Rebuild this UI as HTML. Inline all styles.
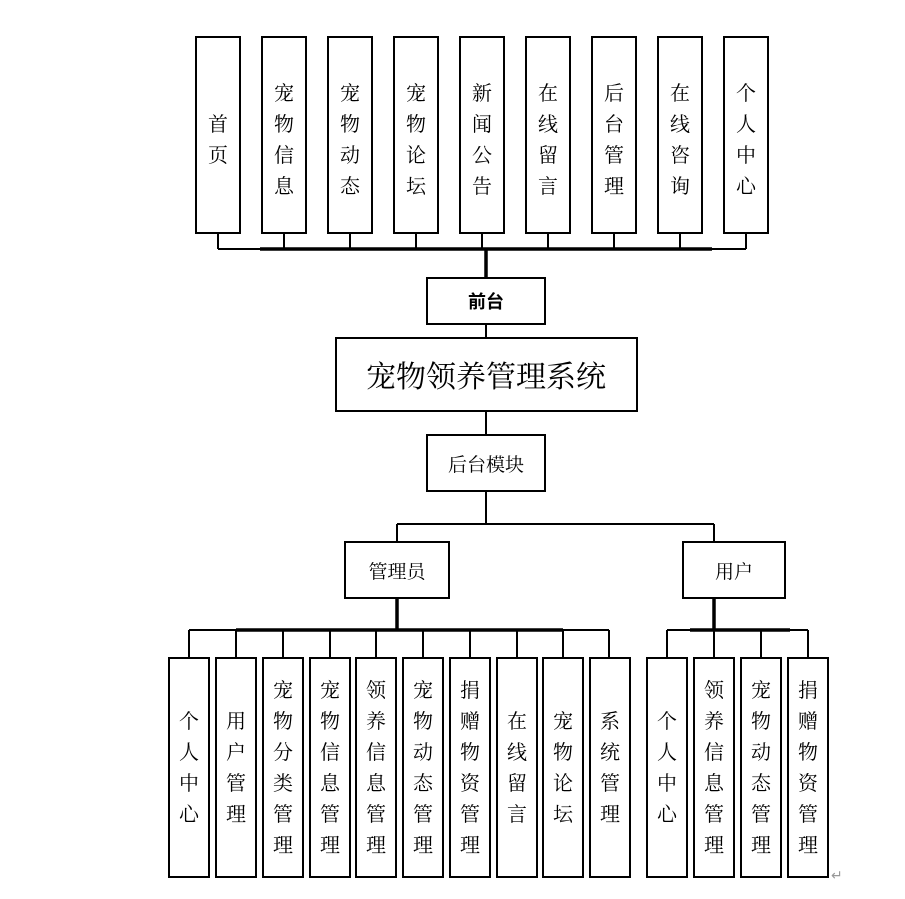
<!DOCTYPE html>
<html><head><meta charset="utf-8"><style>
html,body{margin:0;padding:0;background:#fff;}
svg text{font-family:"Liberation Serif","Noto Serif CJK SC","Noto Sans CJK SC",serif;fill:#000;}
</style></head><body>
<svg width="905" height="894" viewBox="0 0 905 894" xmlns="http://www.w3.org/2000/svg">
<g fill="none" stroke="#000" stroke-width="2">
<!-- top boxes -->
<rect x="196" y="37" width="44" height="196"/>
<rect x="262" y="37" width="44" height="196"/>
<rect x="328" y="37" width="44" height="196"/>
<rect x="394" y="37" width="44" height="196"/>
<rect x="460" y="37" width="44" height="196"/>
<rect x="526" y="37" width="44" height="196"/>
<rect x="592" y="37" width="44" height="196"/>
<rect x="658" y="37" width="44" height="196"/>
<rect x="724" y="37" width="44" height="196"/>
<path d="M218 233V249M284 233V249M350 233V249M416 233V249M482 233V249M548 233V249M614 233V249M680 233V249M746 233V249M218 249H746"/>
<rect x="427" y="278" width="118" height="46"/>
<rect x="336" y="338" width="301" height="73"/>
<rect x="427" y="435" width="118" height="56"/>
<path d="M486 324V338M486 411V435"/>
<path d="M486 491V524M397 524H714M397 524V542M714 524V542"/>
<rect x="345" y="542" width="104" height="56"/>
<rect x="683" y="542" width="102" height="56"/>
<path d="M189 630H609M189 630V658M236 630V658M283 630V658M330 630V658M376 630V658M423 630V658M470 630V658M517 630V658M563 630V658M609 630V658"/>
<path d="M667 630H808M667 630V658M714 630V658M761 630V658M808 630V658"/>
<rect x="169" y="658" width="40" height="219"/>
<rect x="216" y="658" width="40" height="219"/>
<rect x="263" y="658" width="40" height="219"/>
<rect x="310" y="658" width="40" height="219"/>
<rect x="356" y="658" width="40" height="219"/>
<rect x="403" y="658" width="40" height="219"/>
<rect x="450" y="658" width="40" height="219"/>
<rect x="497" y="658" width="40" height="219"/>
<rect x="543" y="658" width="40" height="219"/>
<rect x="590" y="658" width="40" height="219"/>
<rect x="647" y="658" width="40" height="219"/>
<rect x="694" y="658" width="40" height="219"/>
<rect x="741" y="658" width="40" height="219"/>
<rect x="788" y="658" width="40" height="219"/>
</g>
<g stroke="#000" stroke-width="3.5">
<path d="M486 249V278M260 249H712M397 598V630M236 630H563M714 598V630M690 630H790"/>
</g>
<g font-size="20" text-anchor="middle">
<text x="218" y="131">首</text><text x="218" y="162">页</text>
<text x="284" y="100">宠</text><text x="284" y="131">物</text><text x="284" y="162">信</text><text x="284" y="193">息</text>
<text x="350" y="100">宠</text><text x="350" y="131">物</text><text x="350" y="162">动</text><text x="350" y="193">态</text>
<text x="416" y="100">宠</text><text x="416" y="131">物</text><text x="416" y="162">论</text><text x="416" y="193">坛</text>
<text x="482" y="100">新</text><text x="482" y="131">闻</text><text x="482" y="162">公</text><text x="482" y="193">告</text>
<text x="548" y="100">在</text><text x="548" y="131">线</text><text x="548" y="162">留</text><text x="548" y="193">言</text>
<text x="614" y="100">后</text><text x="614" y="131">台</text><text x="614" y="162">管</text><text x="614" y="193">理</text>
<text x="680" y="100">在</text><text x="680" y="131">线</text><text x="680" y="162">咨</text><text x="680" y="193">询</text>
<text x="746" y="100">个</text><text x="746" y="131">人</text><text x="746" y="162">中</text><text x="746" y="193">心</text>
</g>
<text x="486" y="308" font-size="18" font-weight="bold" text-anchor="middle" style="font-family:'Noto Sans CJK SC',sans-serif">前台</text>
<text x="486" y="387" font-size="30" text-anchor="middle">宠物领养管理系统</text>
<text x="486" y="471" font-size="19" text-anchor="middle">后台模块</text>
<text x="397" y="578" font-size="19" text-anchor="middle">管理员</text>
<text x="734" y="578" font-size="19" text-anchor="middle">用户</text>
<g font-size="20" text-anchor="middle">
<text x="189" y="728">个</text><text x="189" y="759">人</text><text x="189" y="790">中</text><text x="189" y="821">心</text>
<text x="236" y="728">用</text><text x="236" y="759">户</text><text x="236" y="790">管</text><text x="236" y="821">理</text>
<text x="283" y="697">宠</text><text x="283" y="728">物</text><text x="283" y="759">分</text><text x="283" y="790">类</text><text x="283" y="821">管</text><text x="283" y="852">理</text>
<text x="330" y="697">宠</text><text x="330" y="728">物</text><text x="330" y="759">信</text><text x="330" y="790">息</text><text x="330" y="821">管</text><text x="330" y="852">理</text>
<text x="376" y="697">领</text><text x="376" y="728">养</text><text x="376" y="759">信</text><text x="376" y="790">息</text><text x="376" y="821">管</text><text x="376" y="852">理</text>
<text x="423" y="697">宠</text><text x="423" y="728">物</text><text x="423" y="759">动</text><text x="423" y="790">态</text><text x="423" y="821">管</text><text x="423" y="852">理</text>
<text x="470" y="697">捐</text><text x="470" y="728">赠</text><text x="470" y="759">物</text><text x="470" y="790">资</text><text x="470" y="821">管</text><text x="470" y="852">理</text>
<text x="517" y="728">在</text><text x="517" y="759">线</text><text x="517" y="790">留</text><text x="517" y="821">言</text>
<text x="563" y="728">宠</text><text x="563" y="759">物</text><text x="563" y="790">论</text><text x="563" y="821">坛</text>
<text x="610" y="728">系</text><text x="610" y="759">统</text><text x="610" y="790">管</text><text x="610" y="821">理</text>
<text x="667" y="728">个</text><text x="667" y="759">人</text><text x="667" y="790">中</text><text x="667" y="821">心</text>
<text x="714" y="697">领</text><text x="714" y="728">养</text><text x="714" y="759">信</text><text x="714" y="790">息</text><text x="714" y="821">管</text><text x="714" y="852">理</text>
<text x="761" y="697">宠</text><text x="761" y="728">物</text><text x="761" y="759">动</text><text x="761" y="790">态</text><text x="761" y="821">管</text><text x="761" y="852">理</text>
<text x="808" y="697">捐</text><text x="808" y="728">赠</text><text x="808" y="759">物</text><text x="808" y="790">资</text><text x="808" y="821">管</text><text x="808" y="852">理</text>
</g>
<text x="831" y="880" font-size="14" fill="#999" style="fill:#999">↵</text>
</svg>
</body></html>
